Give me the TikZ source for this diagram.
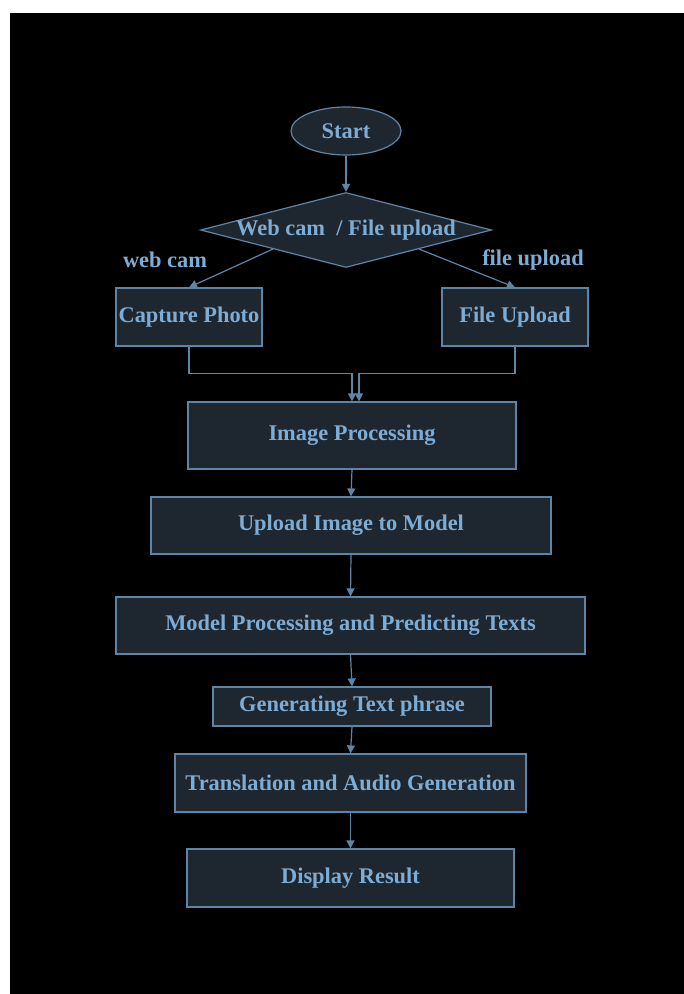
\documentclass[tikz,border=0pt]{standalone}
\usepackage{fontspec}
\setmainfont{Liberation Serif}
\usetikzlibrary{shapes.geometric, arrows.meta, calc}
\definecolor{boxfill}{HTML}{1E2730}
\definecolor{boxline}{HTML}{5E84A6}
\definecolor{boxtext}{HTML}{7DACD4}

\begin{document}
\begin{tikzpicture}[x=0.5pt, y=-0.5pt, >={Triangle[length=4pt,width=4pt]},
		every node/.style={font=\bfseries\fontsize{11.2}{13}\selectfont, text=boxtext},
		stepbox/.style={draw=boxline, fill=boxfill, line width=0.6pt, inner sep=0pt},
		flow/.style={->, draw=boxline, line width=0.6pt}]
		
		% Background
		\fill[white] (0,0) rectangle (684,994);
		\fill[black] (10,13) rectangle (684,994);
		
		% Start and choice
		\node[stepbox, ellipse, minimum width=55pt, minimum height=24pt] (start) at (346,131) {Start};
		\node[stepbox, diamond, aspect=3.88, inner sep=-3pt, minimum width=145.5pt, minimum height=37.5pt] (choice) at (346,230) {Web cam\ \ / File upload};
		\draw[flow] (start.south) -- (choice.north);
		
		% Branch labels
		\node (webcam) at (165,260) {web cam};
		\node (fileup) at (533,260) {file upload};
		
		% Two inputs
		\node[stepbox, minimum width=73pt, minimum height=29pt] (capture) at (189,317) {Capture Photo};
		\node[stepbox, minimum width=73pt, minimum height=29pt] (upload) at (515,317) {File Upload};
		\coordinate (cl) at ($(choice.west)!0.5!(choice.south)$);
		\coordinate (cr) at ($(choice.east)!0.5!(choice.south)$);
		\draw[flow] (cl) -- (capture.north);
		\draw[flow] (cr) -- (upload.north);
		
		% Main chain
		\node[stepbox, minimum width=164pt, minimum height=33.5pt] (improc) at (352,435.5) {Image Processing};
		\node[stepbox, minimum width=200pt, minimum height=28.5pt] (tomodel) at (351,525.5) {Upload Image to Model};
		\node[stepbox, minimum width=234.5pt, minimum height=28.5pt] (predict) at (350.5,625.5) {Model Processing and Predicting Texts};
		\node[stepbox, minimum width=139pt, minimum height=19.5pt] (phrase) at (352,706.5) {Generating Text phrase};
		\node[stepbox, minimum width=175.5pt, minimum height=29pt] (translate) at (350.5,783) {Translation and Audio Generation};
		\node[stepbox, minimum width=163.5pt, minimum height=29pt] (display) at (350.5,878) {Display Result};
		
		% Merge into image processing
		\draw[flow] (capture.south) -- ++(0,27) -| (improc.north);
		\draw[flow] (upload.south) -- ++(0,27) -| ([xshift=3.5pt]improc.north);
		
		\foreach \a/\b in {improc/tomodel, tomodel/predict, predict/phrase, phrase/translate, translate/display}
		\draw[flow] (\a.south) -- (\b.north);
		
	\end{tikzpicture}
\end{document}
